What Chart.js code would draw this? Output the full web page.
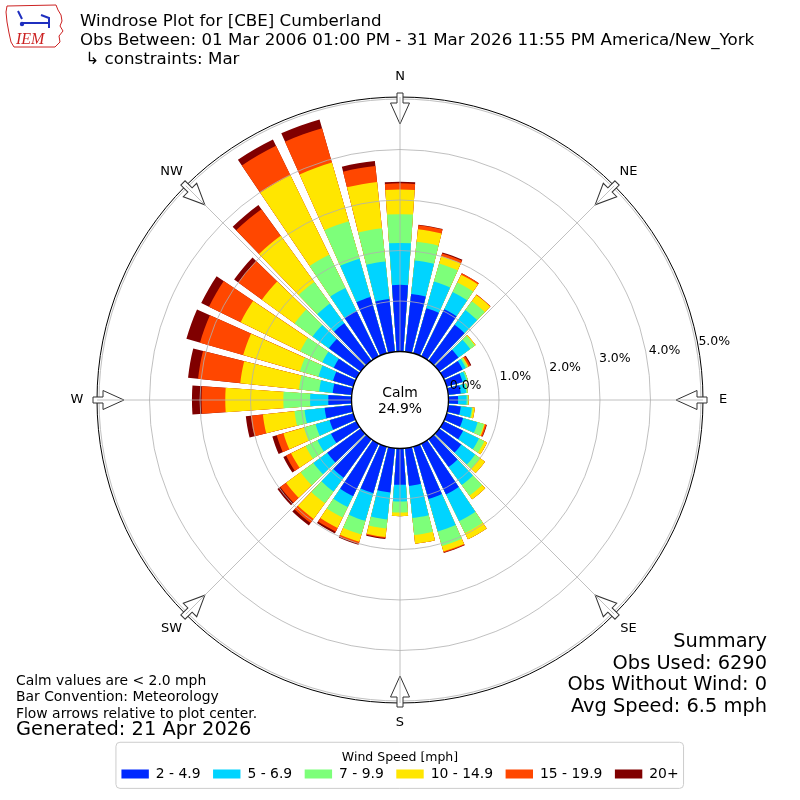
<!DOCTYPE html>
<html>
<head>
<meta charset="utf-8">
<title>Windrose Plot for [CBE] Cumberland</title>
<script src="https://cdn.jsdelivr.net/npm/chart.js@4.4.1/dist/chart.umd.min.js"></script>
<style>
  html, body { margin: 0; padding: 0; background: #fff; }
  #wrap { position: relative; width: 800px; height: 800px; }
</style>
</head>
<body>
<div id="wrap"><canvas id="rose" width="800" height="800"></canvas></div>
<script>
// ======================
// DATA (percent of all obs, per 10 degree sector)
// ======================

const directions = [0, 10, 20, 30, 40, 50, 60, 70, 80, 90, 100, 110,
  120, 130, 140, 150, 160, 170, 180, 190, 200, 210, 220, 230,
  240, 250, 260, 270, 280, 290, 300, 310, 320, 330, 340, 350];

const compassLabels = ["N", "NE", "E", "SE", "S", "SW", "W", "NW"];

const speedBins = ["2 - 4.9", "5 - 6.9", "7 - 9.9", "10 - 14.9", "15 - 19.9", "20+"];
const binColors = ["#0028ff", "#00d4ff", "#7dff7a", "#ffe600", "#ff4700", "#800000"];

const s2to5 = [1.32, 1.15, 0.93, 1.04, 0.88, 0.47, 0.42, 0.33, 0.25, 0.19, 0.25, 0.34,
  0.43, 0.54, 0.68, 1.12, 1.08, 0.75, 0.72, 0.88, 0.96, 1.16, 0.94, 0.82,
  0.56, 0.49, 0.54, 0.46, 0.38, 0.42, 0.50, 0.78, 0.92, 1.00, 1.16, 1.05];
const s5to7 = [0.83, 0.67, 0.55, 0.38, 0.36, 0.29, 0.07, 0.08, 0.11, 0.17, 0.22, 0.30,
  0.35, 0.34, 0.44, 0.59, 0.67, 0.64, 0.33, 0.54, 0.57, 0.24, 0.34, 0.34,
  0.30, 0.29, 0.40, 0.36, 0.27, 0.30, 0.25, 0.40, 0.48, 0.51, 0.79, 0.75];
const s7to10 = [0.57, 0.37, 0.37, 0.21, 0.22, 0.11, 0.04, 0.03, 0.03, 0.03, 0.02, 0.13,
  0.12, 0.12, 0.26, 0.26, 0.30, 0.34, 0.22, 0.18, 0.28, 0.23, 0.29, 0.31,
  0.26, 0.24, 0.20, 0.53, 0.40, 0.38, 0.49, 0.44, 0.53, 0.73, 0.77, 0.66];
const s10to15 = [0.49, 0.25, 0.15, 0.17, 0.15, 0.02, 0.02, 0.00, 0.00, 0.01, 0.04, 0.02,
  0.06, 0.12, 0.09, 0.14, 0.11, 0.17, 0.07, 0.17, 0.15, 0.23, 0.38, 0.36,
  0.32, 0.42, 0.63, 1.15, 1.17, 1.17, 1.31, 0.80, 1.13, 1.75, 1.21, 0.92];
const s15to20 = [0.12, 0.08, 0.06, 0.03, 0.01, 0.00, 0.04, 0.00, 0.00, 0.00, 0.00, 0.03,
  0.00, 0.00, 0.00, 0.00, 0.02, 0.00, 0.00, 0.02, 0.04, 0.08, 0.10, 0.14,
  0.11, 0.14, 0.24, 0.47, 0.84, 0.89, 0.70, 0.58, 0.65, 0.65, 0.71, 0.32];
const s20plus = [0.03, 0.01, 0.02, 0.00, 0.00, 0.00, 0.02, 0.00, 0.00, 0.00, 0.00, 0.01,
  0.00, 0.00, 0.00, 0.00, 0.01, 0.00, 0.00, 0.02, 0.02, 0.04, 0.06, 0.07,
  0.06, 0.09, 0.10, 0.19, 0.20, 0.28, 0.17, 0.10, 0.10, 0.14, 0.18, 0.10];

const seriesBySpeed = [s2to5, s5to7, s7to10, s10to15, s15to20, s20plus];

const rTicks = [0, 1, 2, 3, 4, 5];
const calmPct = 24.9;

const titleLines = [
  "Windrose Plot for [CBE] Cumberland",
  "Obs Between: 01 Mar 2006 01:00 PM - 31 Mar 2026 11:55 PM America/New_York",
  " \u21b3 constraints: Mar"
];
const noteLines = [
  "Calm values are < 2.0 mph",
  "Bar Convention: Meteorology",
  "Flow arrows relative to plot center."
];
const generatedLine = "Generated: 21 Apr 2026";
const summaryLines = ["Summary", "Obs Used: 6290", "Obs Without Wind: 0", "Avg Speed: 6.5 mph"];

// ======================
// SCALE / SECTOR SETUP
// ======================

const R_MIN = -0.96;   // space for the calm circle
const R_MAX = 5.04;
const BAR_DEG = 8;
const GAP_DEG = 2;
const FONT = "'DejaVu Sans', sans-serif";

// every sector is one bar + one empty gap element
const sectorLabels = [];
directions.forEach(d => {
  sectorLabels.push(d + "\u00b0");
  sectorLabels.push("");
});

// stacked: each ring is the running total, the biggest is drawn underneath
let running = directions.map(() => 0);
const roseDatasets = seriesBySpeed.map((serie, k) => {
  running = running.map((v, i) => v + serie[i]);
  const data = [];
  const colors = [];
  running.forEach(v => {
    data.push(v);
    colors.push(binColors[k]);
    data.push(R_MIN);
    colors.push("rgba(0,0,0,0)");
  });
  return {
    label: speedBins[k],
    data: data,
    backgroundColor: colors,
    borderWidth: 0,
    angle: ctx => (ctx.dataIndex % 2 === 0 ? BAR_DEG : GAP_DEG)
  };
});

// ======================
// DECORATION PLUGINS
// ======================

const roseDecor = {
  id: "roseDecor",
  afterDatasetsDraw(chart) {
    const ctx = chart.ctx;
    const sc = chart.scales.r;
    const cx = sc.xCenter;
    const cy = sc.yCenter;
    const rad = v => sc.getDistanceFromCenterForValue(v);
    const frameR = sc.drawingArea;

    ctx.save();

    // rings
    ctx.strokeStyle = "#b0b0b0";
    ctx.lineWidth = 0.8;
    rTicks.forEach(v => {
      ctx.beginPath();
      ctx.arc(cx, cy, rad(v), 0, Math.PI * 2);
      ctx.stroke();
    });

    // frame
    ctx.strokeStyle = "#000";
    ctx.lineWidth = 1;
    ctx.beginPath();
    ctx.arc(cx, cy, frameR, 0, Math.PI * 2);
    ctx.stroke();

    // flow arrows
    compassLabels.forEach((lab, i) => {
      ctx.save();
      ctx.translate(cx, cy);
      ctx.rotate(i * 45 * Math.PI / 180);
      ctx.beginPath();
      ctx.moveTo(-3, -(frameR + 4));
      ctx.lineTo(3, -(frameR + 4));
      ctx.lineTo(3, -(frameR - 6));
      ctx.lineTo(9.5, -(frameR - 6));
      ctx.lineTo(0, -(frameR - 27));
      ctx.lineTo(-9.5, -(frameR - 6));
      ctx.lineTo(-3, -(frameR - 6));
      ctx.closePath();
      ctx.fillStyle = "#fff";
      ctx.fill();
      ctx.strokeStyle = "#333";
      ctx.lineWidth = 1;
      ctx.stroke();
      ctx.restore();
    });

    // angle lines
    ctx.strokeStyle = "#b0b0b0";
    ctx.lineWidth = 0.8;
    compassLabels.forEach((lab, i) => {
      const a = i * 45 * Math.PI / 180;
      ctx.beginPath();
      ctx.moveTo(cx, cy);
      ctx.lineTo(cx + frameR * Math.sin(a), cy - frameR * Math.cos(a));
      ctx.stroke();
    });

    // calm circle
    ctx.beginPath();
    ctx.arc(cx, cy, rad(0), 0, Math.PI * 2);
    ctx.fillStyle = "#fff";
    ctx.fill();
    ctx.strokeStyle = "#000";
    ctx.lineWidth = 1.3;
    ctx.stroke();

    ctx.fillStyle = "#000";
    ctx.font = "13.9px " + FONT;
    ctx.textAlign = "center";
    ctx.textBaseline = "alphabetic";
    ctx.fillText("Calm", cx, cy - 3);
    ctx.fillText(calmPct.toFixed(1) + "%", cx, cy + 13);

    // radial tick labels along 80 degrees
    const la = 80 * Math.PI / 180;
    ctx.font = "12.5px " + FONT;
    ctx.textAlign = "left";
    ctx.textBaseline = "bottom";
    rTicks.forEach(v => {
      const r = rad(v);
      ctx.fillText(v.toFixed(1) + "%", cx + r * Math.sin(la) + 2, cy - r * Math.cos(la));
    });

    // compass labels
    ctx.font = "13px " + FONT;
    ctx.textAlign = "center";
    ctx.textBaseline = "middle";
    compassLabels.forEach((lab, i) => {
      const a = i * 45 * Math.PI / 180;
      ctx.fillText(lab, cx + (frameR + 20) * Math.sin(a), cy - (frameR + 20) * Math.cos(a));
    });

    ctx.restore();
  }
};

const pageText = {
  id: "pageText",
  afterDraw(chart) {
    const ctx = chart.ctx;
    ctx.save();

    // legend frame
    const lg = chart.legend;
    const boxes = lg.legendHitBoxes;
    const x0 = Math.min(...boxes.map(b => b.left)) - 5.5;
    const x1 = Math.max(...boxes.map(b => b.left + b.width)) + 5;
    const y0 = lg.top - 9.2;
    const y1 = lg.top + 36.9;
    ctx.strokeStyle = "#cccccc";
    ctx.lineWidth = 1;
    ctx.beginPath();
    ctx.roundRect(x0, y0, x1 - x0, y1 - y0, 4);
    ctx.stroke();

    ctx.fillStyle = "#000";
    ctx.textBaseline = "alphabetic";

    // title block
    ctx.font = "16.67px " + FONT;
    ctx.textAlign = "left";
    titleLines.forEach((t, i) => ctx.fillText(t, 80, 26 + i * 18.8));

    // notes
    ctx.font = "13.9px " + FONT;
    noteLines.forEach((t, i) => ctx.fillText(t, 16, 685 + i * 16.3));
    ctx.font = "19.4px " + FONT;
    ctx.fillText(generatedLine, 16, 735);

    // summary
    ctx.textAlign = "right";
    summaryLines.forEach((t, i) => ctx.fillText(t, 767, 647 + i * 21.7));

    // IEM logo
    ctx.strokeStyle = "#cc2222";
    ctx.lineWidth = 1;
    ctx.beginPath();
    ctx.moveTo(7, 6); ctx.lineTo(56, 5); ctx.lineTo(58, 10); ctx.lineTo(61, 15);
    ctx.lineTo(62, 21); ctx.lineTo(60, 26); ctx.lineTo(63, 31); ctx.lineTo(59, 36);
    ctx.lineTo(60, 42); ctx.lineTo(55, 47); ctx.lineTo(14, 47); ctx.lineTo(11, 42);
    ctx.lineTo(9, 33); ctx.lineTo(7, 22); ctx.lineTo(6, 12);
    ctx.closePath();
    ctx.stroke();
    ctx.strokeStyle = "#1f2fbf";
    ctx.lineWidth = 2;
    ctx.beginPath();
    ctx.moveTo(21, 23); ctx.lineTo(50, 23);
    ctx.moveTo(18, 11); ctx.lineTo(22, 19);
    ctx.moveTo(41, 15); ctx.lineTo(49, 18); ctx.lineTo(49, 28);
    ctx.stroke();
    ctx.fillStyle = "#1f2fbf";
    ctx.beginPath();
    ctx.arc(22, 24, 2.2, 0, Math.PI * 2);
    ctx.fill();
    ctx.fillStyle = "#cc2222";
    ctx.font = "italic 16px 'Liberation Serif', serif";
    ctx.textAlign = "left";
    ctx.fillText("IEM", 16, 44);

    ctx.restore();
  }
};

// ======================
// CHART
// ======================

const rose = new Chart(document.getElementById("rose"), {
  type: "polarArea",
  data: {
    labels: sectorLabels,
    datasets: roseDatasets
  },
  options: {
    responsive: false,
    animation: false,
    events: [],
    layout: {
      padding: { top: 48.8, bottom: 9, left: 97, right: 97 }
    },
    scales: {
      r: {
        min: R_MIN,
        max: R_MAX,
        startAngle: -BAR_DEG / 2,
        ticks: { display: false },
        grid: { display: false },
        angleLines: { display: false },
        pointLabels: { display: false }
      }
    },
    plugins: {
      tooltip: { enabled: false },
      legend: {
        position: "bottom",
        title: {
          display: true,
          text: "Wind Speed [mph]",
          color: "#000",
          font: { family: FONT, size: 12.5, lineHeight: 0.25 }
        },
        labels: {
          color: "#000",
          font: { family: FONT, size: 13.9 },
          boxWidth: 27.4,
          boxHeight: 9,
          padding: 12.5,
          generateLabels: chart => chart.data.datasets.map((ds, i) => ({
            text: ds.label,
            fillStyle: binColors[i],
            strokeStyle: binColors[i],
            lineWidth: 0,
            hidden: false,
            datasetIndex: i
          }))
        }
      }
    }
  },
  plugins: [roseDecor, pageText]
});
</script>
</body>
</html>
